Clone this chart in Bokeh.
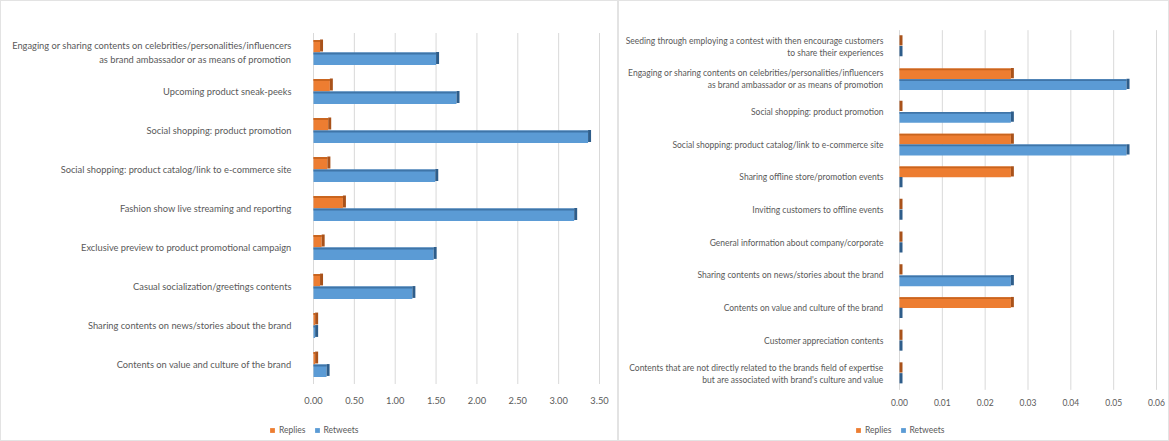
from bokeh.plotting import figure
from bokeh.models import Range1d, Legend, LegendItem, NumeralTickFormatter, FixedTicker, ColumnDataSource
from bokeh.layouts import row
from bokeh.embed import file_html
from bokeh.resources import INLINE

# ---------------- data ----------------
left_categories = [
    "Engaging or sharing contents on celebrities/personalities/influencers\nas brand ambassador or as means of promotion",
    "Upcoming product sneak-peeks",
    "Social shopping: product promotion",
    "Social shopping: product catalog/link to e-commerce site",
    "Fashion show live streaming and reporting",
    "Exclusive preview to product promotional campaign",
    "Casual socialization/greetings contents",
    "Sharing contents on news/stories about the brand",
    "Contents on value and culture of the brand",
]
left_replies = [0.08, 0.20, 0.18, 0.17, 0.36, 0.10, 0.08, 0.02, 0.02]
left_retweets = [1.50, 1.75, 3.36, 1.49, 3.19, 1.47, 1.21, 0.02, 0.16]
left_ticks = [0.0, 0.5, 1.0, 1.5, 2.0, 2.5, 3.0, 3.5]

right_categories = [
    "Seeding through employing a contest with then encourage customers\nto share their experiences",
    "Engaging or sharing contents on celebrities/personalities/influencers\nas brand ambassador or as means of promotion",
    "Social shopping: product promotion",
    "Social shopping: product catalog/link to e-commerce site",
    "Sharing offline store/promotion events",
    "Inviting customers to offline events",
    "General information about company/corporate",
    "Sharing contents on news/stories about the brand",
    "Contents on value and culture of the brand",
    "Customer appreciation contents",
    "Contents that are not directly related to the brands field of expertise\nbut are associated with brand's culture and value",
]
right_replies = [0.0, 0.026, 0.0, 0.026, 0.026, 0.0, 0.0, 0.0, 0.026, 0.0, 0.0]
right_retweets = [0.0, 0.053, 0.026, 0.053, 0.0, 0.0, 0.0, 0.026, 0.0, 0.0, 0.0]
right_ticks = [0.0, 0.01, 0.02, 0.03, 0.04, 0.05, 0.06]

series_names = ["Replies", "Retweets"]

# ---------------- style ----------------
ORANGE = "#ED7D31"
ORANGE_TOP = "#C9651F"
ORANGE_D = "#A9521A"
BLUE = "#5B9BD5"
BLUE_TOP = "#3F75A8"
BLUE_D = "#2E5D8A"
TXT = "#595959"
GRID = "#D9D9D9"
FONT = "Lato"


def make_panel(cats, replies, retweets, ticks, width, height,
               zero_px, end_px, first_px, last_px, cap_px, bar_h, off,
               font_size, label_standoff, x_standoff, legend_xy):
    n = len(cats)
    xmax = ticks[-1]
    ppu_x = (end_px - zero_px) / xmax
    ppu_y = (last_px - first_px) / (n - 1)
    x_range = Range1d(-zero_px / ppu_x, xmax + (width - end_px) / ppu_x)
    y_range = Range1d(-(height - last_px) / ppu_y, (n - 1) + first_px / ppu_y)

    pos = [n - 1 - i for i in range(n)]          # first category on top
    cap = cap_px / ppu_x
    src = ColumnDataSource(dict(
        pos=pos,
        y_rep=[v + off for v in pos],
        y_ret=[v - off for v in pos],
        y_rep_top=[v + off + bar_h * 0.42 for v in pos],
        y_ret_top=[v - off + bar_h * 0.42 for v in pos],
        y_rep_cap=[v + off + bar_h * 0.06 for v in pos],
        y_ret_cap=[v - off + bar_h * 0.06 for v in pos],
        replies=replies,
        retweets=retweets,
        replies_cap=[v + cap for v in replies],
        retweets_cap=[v + cap for v in retweets],
    ))

    p = figure(width=width, height=height, output_backend="svg", toolbar_location=None,
               x_range=x_range, y_range=y_range,
               min_border_left=0, min_border_right=0, min_border_top=0, min_border_bottom=0)
    p.styles = {"border": "1px solid #E3E3E3", "box-sizing": "border-box"}
    p.outline_line_color = None
    p.background_fill_color = "white"
    p.border_fill_color = "white"
    p.grid.visible = False

    # gridlines over the plot area only
    p.segment(x0=ticks, x1=ticks, y0=-0.5, y1=n - 0.5, line_color=GRID, line_width=1)

    # main faces
    r_rep = p.hbar(y="y_rep", left=0, right="replies", height=bar_h,
                   source=src, fill_color=ORANGE, line_color=None)
    r_ret = p.hbar(y="y_ret", left=0, right="retweets", height=bar_h,
                   source=src, fill_color=BLUE, line_color=None)
    # 3D top strips
    p.hbar(y="y_rep_top", left=0, right="replies", height=bar_h * 0.16,
           source=src, fill_color=ORANGE_TOP, line_color=None)
    p.hbar(y="y_ret_top", left=0, right="retweets", height=bar_h * 0.16,
           source=src, fill_color=BLUE_TOP, line_color=None)
    # 3D end caps
    p.hbar(y="y_rep_cap", left="replies", right="replies_cap", height=bar_h * 0.95,
           source=src, fill_color=ORANGE_D, line_color=None)
    p.hbar(y="y_ret_cap", left="retweets", right="retweets_cap", height=bar_h * 0.95,
           source=src, fill_color=BLUE_D, line_color=None)

    # x axis (value axis) fixed at the bottom of the plot area
    xa = p.xaxis[0]
    xa.fixed_location = -0.5
    xa.ticker = FixedTicker(ticks=ticks)
    xa.formatter = NumeralTickFormatter(format="0.00")
    xa.axis_line_color = None
    xa.major_tick_line_color = None
    xa.minor_tick_line_color = None
    xa.major_label_text_color = TXT
    xa.major_label_text_font = FONT
    xa.major_label_text_font_size = font_size
    xa.major_label_standoff = x_standoff

    # y axis (categories) fixed at zero
    ya = p.yaxis[0]
    ya.fixed_location = 0
    ya.ticker = FixedTicker(ticks=pos)
    overrides = {}
    for k, c in zip(pos, cats):
        overrides[float(k)] = c
        overrides[str(k)] = c
    ya.major_label_overrides = overrides
    ya.axis_line_color = None
    ya.major_tick_line_color = None
    ya.minor_tick_line_color = None
    ya.major_label_text_color = TXT
    ya.major_label_text_font = FONT
    ya.major_label_text_font_size = font_size
    ya.major_label_standoff = label_standoff

    legend = Legend(items=[LegendItem(label=series_names[0], renderers=[r_rep]),
                           LegendItem(label=series_names[1], renderers=[r_ret])],
                    orientation="horizontal", location=legend_xy,
                    background_fill_alpha=0, border_line_color=None,
                    padding=2, spacing=8, margin=0,
                    glyph_width=6, glyph_height=6, label_standoff=4,
                    label_text_font=FONT, label_text_font_size="8.5px",
                    label_text_color=TXT, label_height=10)
    p.add_layout(legend, "center")
    return p


p1 = make_panel(left_categories, left_replies, left_retweets, left_ticks,
                width=618, height=441, zero_px=312, end_px=598, first_px=51, last_px=363,
                cap_px=3, bar_h=0.32, off=0.16, font_size="9.3px",
                label_standoff=16, x_standoff=7, legend_xy=(268, 7))
p2 = make_panel(right_categories, right_replies, right_retweets, right_ticks,
                width=551, height=441, zero_px=280, end_px=537, first_px=45, last_px=372,
                cap_px=3, bar_h=0.33, off=0.165, font_size="8.5px",
                label_standoff=10, x_standoff=3, legend_xy=(236, 7))

layout = row(p1, p2)
open("out.html", "w").write(file_html(layout, INLINE))
